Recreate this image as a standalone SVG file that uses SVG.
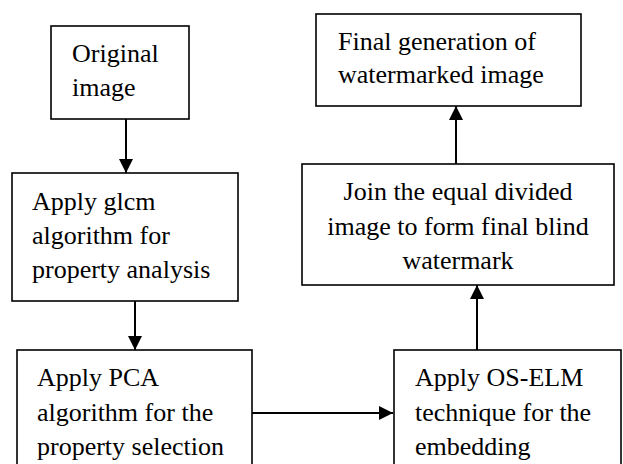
<svg xmlns="http://www.w3.org/2000/svg" width="623" height="464" viewBox="0 0 623 464">
<style>
.box{fill:#fff;stroke:#000;stroke-width:1.6}
.t{font-family:"Liberation Serif","Times New Roman",serif;font-size:26px;fill:#000}
.c{text-anchor:middle}
.ln{stroke:#000;stroke-width:2;fill:none}
</style>
<defs>
<marker id="ah" markerWidth="14" markerHeight="14" viewBox="0 0 14 14" refX="14" refY="7" orient="auto" markerUnits="userSpaceOnUse">
<path d="M0,0 L14,7 L0,14 Z" fill="#000"/>
</marker>
</defs>
<rect width="623" height="464" fill="#fff"/>
<g id="connectors">
<line class="ln" x1="126" y1="119" x2="126" y2="173" marker-end="url(#ah)"/>
<line class="ln" x1="135" y1="301" x2="135" y2="350" marker-end="url(#ah)"/>
<line class="ln" x1="252" y1="413" x2="393" y2="413" marker-end="url(#ah)"/>
<line class="ln" x1="477" y1="350" x2="477" y2="285" marker-end="url(#ah)"/>
<line class="ln" x1="456" y1="164" x2="456" y2="106" marker-end="url(#ah)"/>
</g>
<g id="n1">
<rect class="box" x="51" y="26" width="138" height="93"/>
<text class="t" x="72" y="62">Original</text>
<text class="t" x="72" y="96">image</text>
</g>
<g id="n2">
<rect class="box" x="12" y="173" width="226" height="128"/>
<text class="t" x="32" y="210">Apply glcm</text>
<text class="t" x="32" y="244">algorithm for</text>
<text class="t" x="32" y="278">property analysis</text>
</g>
<g id="n3">
<rect class="box" x="17" y="350" width="235" height="130"/>
<text class="t" x="37" y="386">Apply PCA</text>
<text class="t" x="37" y="421">algorithm for the</text>
<text class="t" x="37" y="455">property selection</text>
</g>
<g id="n4">
<rect class="box" x="394" y="350" width="227" height="130"/>
<text class="t" x="415" y="386">Apply OS-ELM</text>
<text class="t" x="415" y="421">technique for the</text>
<text class="t" x="415" y="455">embedding</text>
</g>
<g id="n5">
<rect class="box" x="302" y="164" width="312" height="121"/>
<text class="t c" x="458" y="200">Join the equal divided</text>
<text class="t c" x="458" y="235">image to form final blind</text>
<text class="t c" x="458" y="269">watermark</text>
</g>
<g id="n6">
<rect class="box" x="316" y="14" width="265" height="92"/>
<text class="t" x="338" y="50">Final generation of</text>
<text class="t" x="338" y="83">watermarked image</text>
</g>
</svg>
